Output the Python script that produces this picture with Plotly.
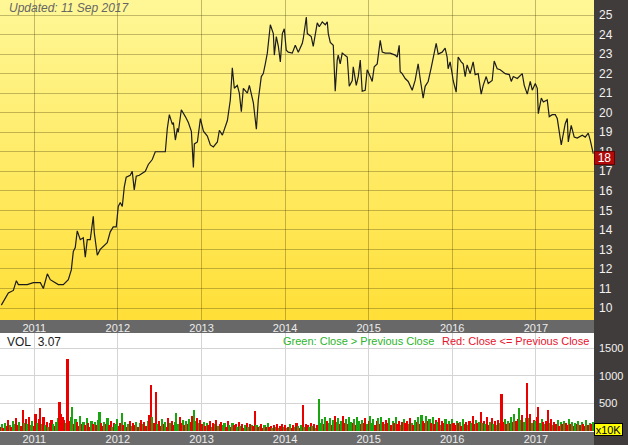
import plotly.graph_objects as go
import pandas as pd
import numpy as np

# price line (time as decimal year, close price)
price_t = [
    2010.605, 2010.653, 2010.689, 2010.749, 2010.785, 2010.809, 2010.916, 2010.988,
    2011.072, 2011.108, 2011.156, 2011.191, 2011.227, 2011.287, 2011.347, 2011.407,
    2011.443, 2011.467, 2011.490, 2011.514, 2011.550, 2011.586, 2011.610, 2011.634,
    2011.670, 2011.706, 2011.718, 2011.754, 2011.789, 2011.825, 2011.873, 2011.909,
    2011.945, 2011.981, 2011.993, 2012.005, 2012.029, 2012.053, 2012.077, 2012.100,
    2012.148, 2012.172, 2012.196, 2012.220, 2012.256, 2012.328, 2012.364, 2012.411,
    2012.447, 2012.483, 2012.567, 2012.591, 2012.615, 2012.651, 2012.663, 2012.687,
    2012.711, 2012.722, 2012.758, 2012.806, 2012.842, 2012.878, 2012.902, 2012.914,
    2012.950, 2012.962, 2012.986, 2013.022, 2013.069, 2013.105, 2013.141, 2013.189,
    2013.213, 2013.249, 2013.285, 2013.309, 2013.344, 2013.368, 2013.392, 2013.428,
    2013.452, 2013.476, 2013.500, 2013.548, 2013.572, 2013.608, 2013.620, 2013.656,
    2013.679, 2013.715, 2013.739, 2013.763, 2013.787, 2013.823, 2013.859, 2013.871,
    2013.895, 2013.919, 2013.943, 2013.967, 2013.990, 2014.014, 2014.038, 2014.086,
    2014.122, 2014.158, 2014.206, 2014.218, 2014.254, 2014.266, 2014.313, 2014.337,
    2014.385, 2014.409, 2014.445, 2014.481, 2014.505, 2014.517, 2014.541, 2014.577,
    2014.589, 2014.600, 2014.624, 2014.636, 2014.660, 2014.684, 2014.744, 2014.768,
    2014.804, 2014.816, 2014.852, 2014.876, 2014.900, 2014.923, 2014.959, 2014.983,
    2015.019, 2015.043, 2015.067, 2015.103, 2015.139, 2015.163, 2015.199, 2015.258,
    2015.318, 2015.342, 2015.366, 2015.378, 2015.402, 2015.438, 2015.474, 2015.522,
    2015.557, 2015.593, 2015.617, 2015.653, 2015.677, 2015.713, 2015.749, 2015.773,
    2015.809, 2015.833, 2015.880, 2015.916, 2015.940, 2015.952, 2015.976, 2016.000,
    2016.012, 2016.048, 2016.072, 2016.108, 2016.132, 2016.156, 2016.179, 2016.215,
    2016.251, 2016.275, 2016.311, 2016.347, 2016.371, 2016.407, 2016.431, 2016.478,
    2016.502, 2016.538, 2016.574, 2016.634, 2016.682, 2016.706, 2016.730, 2016.778,
    2016.801, 2016.837, 2016.861, 2016.897, 2016.933, 2016.957, 2016.993, 2017.017,
    2017.029, 2017.065, 2017.089, 2017.136, 2017.160, 2017.196, 2017.232, 2017.256,
    2017.304, 2017.328, 2017.352, 2017.376, 2017.388, 2017.423, 2017.459, 2017.495,
    2017.555, 2017.591, 2017.627, 2017.651, 2017.687,
]
price = [
    10.15, 10.5, 10.77, 10.9, 11.4, 11.2, 11.2, 11.3,
    11.3, 11.0, 11.75, 11.45, 11.35, 11.2, 11.2, 11.45,
    11.95, 12.9, 13.1, 13.95, 13.5, 13.6, 12.6, 13.5,
    13.5, 14.7, 13.85, 12.7, 13.0, 13.15, 13.35, 13.9,
    14.15, 14.15, 14.7, 15.2, 15.4, 15.2, 16.2, 16.7,
    16.8, 17.0, 16.05, 16.75, 16.8, 17.0, 17.35, 17.6,
    18.0, 18.0, 18.0, 19.2, 19.9, 19.4, 19.5, 18.6,
    19.2, 19.0, 20.15, 19.8, 19.5, 19.05, 17.2, 18.4,
    18.5, 18.9, 19.7, 19.05, 18.8, 18.35, 18.25, 18.5,
    19.1, 18.85, 19.3, 19.6, 20.65, 22.3, 21.25, 21.4,
    21.0, 20.05, 21.25, 21.0, 21.4, 20.8, 20.5, 19.15,
    20.65, 21.85, 22.0, 22.5, 23.05, 24.5, 24.05, 22.95,
    23.9, 23.4, 22.6, 24.05, 24.3, 23.2, 23.1, 23.05,
    23.45, 23.1, 23.55, 23.8, 24.9, 24.05, 23.9, 23.4,
    24.6, 24.4, 24.65, 24.5, 24.65, 24.05, 23.6, 23.45,
    22.35, 21.1, 22.7, 22.95, 22.5, 23.05, 22.85, 21.35,
    21.65, 22.35, 21.4, 21.85, 22.7, 21.1, 21.15, 22.2,
    21.85, 21.6, 22.35, 22.5, 23.7, 23.1, 23.05, 23.05,
    22.95, 22.85, 23.45, 22.1, 22.0, 21.75, 21.6, 21.15,
    21.65, 22.5, 21.75, 20.75, 21.35, 21.6, 22.3, 22.85,
    23.55, 23.0, 23.1, 23.3, 22.85, 22.25, 22.6, 22.0,
    21.65, 21.05, 22.85, 22.6, 22.5, 21.85, 22.45, 22.0,
    22.6, 21.95, 22.0, 20.95, 21.4, 21.85, 21.5, 21.65,
    22.65, 22.25, 22.2, 22.0, 21.95, 21.6, 21.85, 21.75,
    21.85, 22.0, 21.4, 20.95, 21.6, 21.15, 21.5, 21.25,
    19.95, 20.75, 20.55, 20.65, 19.8, 19.9, 19.9, 19.7,
    18.35, 18.95, 19.45, 19.7, 18.5, 19.35, 18.75, 18.7,
    18.85, 18.75, 18.95, 18.6, 17.9,
]

# weekly volume (x10K)
volume = [
    80, 120, 60, 150, 90, 200, 110, 70, 180, 130, 240, 100, 160, 90, 380, 140, 220, 120, 260, 100,
    180, 90, 300, 150, 210, 410, 130, 250, 100, 170, 80, 140, 200, 120, 90, 160, 230, 530, 300, 250,
    200, 150, 1310, 180, 250, 440, 130, 210, 160, 90, 280, 120, 170, 100, 230, 140, 80, 190, 120, 160,
    110, 200, 350, 150, 90, 170, 130, 240, 100, 180, 80, 150, 120, 210, 90, 140, 330, 110, 170, 80,
    130, 190, 90, 150, 110, 170, 80, 140, 200, 120, 160, 90, 180, 290, 835, 260, 150, 715, 120, 180,
    90, 210, 130, 170, 80, 230, 140, 190, 110, 160, 330, 120, 250, 150, 200, 100, 180, 130, 220, 160,
    270, 380, 190, 240, 150, 200, 120, 170, 90, 140, 110, 180, 80, 150, 120, 200, 90, 130, 160, 100,
    140, 80, 190, 110, 70, 150, 100, 120, 80, 170, 90, 130, 60, 110, 150, 80, 120, 100, 90, 365,
    110, 70, 90, 130, 60, 100, 80, 140, 70, 90, 60, 110, 80, 120, 50, 90, 130, 70, 100, 60,
    80, 120, 60, 100, 70, 140, 90, 60, 110, 470, 80, 130, 100, 70, 150, 90, 120, 60, 110, 590,
    150, 220, 120, 260, 180, 140, 240, 110, 200, 270, 160, 230, 130, 190, 280, 150, 210, 120, 250, 170,
    140, 220, 110, 260, 180, 130, 200, 150, 240, 120, 190, 270, 140, 210, 100, 180, 230, 130, 250, 160,
    120, 200, 150, 230, 110, 180, 140, 260, 130, 190, 100, 170, 220, 140, 180, 120, 240, 150, 110, 200,
    170, 250, 130, 290, 190, 150, 270, 180, 220, 140, 260, 120, 200, 160, 230, 110, 190, 150, 210, 130,
    180, 120, 220, 150, 100, 190, 140, 170, 90, 210, 130, 160, 110, 180, 140, 280, 120, 200, 150, 170,
    350, 140, 190, 120, 260, 110, 170, 230, 130, 180, 100, 200, 150, 680, 170, 220, 120, 190, 140, 250,
    160, 300, 180, 220, 410, 200, 290, 170, 240, 880, 230, 310, 150, 200, 180, 260, 440, 140, 210, 170,
    130, 190, 380, 150, 220, 110, 170, 130, 200, 90, 160, 120, 180, 140, 100, 210, 130, 170, 90, 150,
    120, 180, 100, 160, 130, 90, 200, 110, 150, 130, 170,
]
# g = close > previous close, r = close <= previous close
vol_dir = (
    "rgrgrrgrggrrgrrgrgrg" "grrgrrgrgrgrrgrggrrr" "rgrrggrgrrgrgrgrrgrg" "rggrrgrgrrgrggrrgrgr"
    "grgrrgrgrgrrgrrgrrgr" "rgrgrrgrrgggrrgrgrgr" "rggrgrrgrgrrgrgrgrrg" "grrgrgrrgrgrrgrgrgrr"
    "grgrrgrgrrgrgrgrrgrg" "rgrrgrgrgrgrrgrgrgrg" "ggrgrggrgrggrgrrgrgg" "rgrggrgrrgrgggrrgrgr"
    "grrgrgrgrrgrgrrgrgrg" "rgrgrrgrgrgrrgrgrrgr" "grgrrgrgrgrrgrgrrgrg" "rgrgrrgrgrgrgrrgrgrg"
    "rgrrggrggrgrgrgrrggr" "grrgrgrrgrgrgrrgrgrg" "rgrgrrgrgrg"
)

year_ticks = ["2011", "2012", "2013", "2014", "2015", "2016", "2017"]
price_ticks = list(range(10, 26))
vol_ticks = [500, 1000, 1500]


def to_date(t):
    y = int(np.floor(t))
    start = pd.Timestamp(year=y, month=1, day=1)
    days = (pd.Timestamp(year=y + 1, month=1, day=1) - start).days
    return start + pd.Timedelta(days=(t - y) * days)


price_dates = [to_date(t) for t in price_t]
vol_dates = pd.date_range("2010-08-06", "2017-09-08", periods=len(volume))
vol_colors = ["rgb(25,165,15)" if c == "g" else "rgb(235,0,0)" for c in vol_dir]
tick_dates = [pd.Timestamp(int(y), 1, 1) for y in year_ticks]

FONT = "Arial, Liberation Sans, sans-serif"
X_END = 594 / 628          # right edge of plot panels
MAIN_BOT = (445 - 320) / 445
VOL_TOP = (445 - 333) / 445
VOL_BOT = (445 - 431) / 445

fig = go.Figure()
fig.add_trace(go.Scatter(x=price_dates, y=price, mode="lines",
                         line=dict(color="#1c1c1c", width=1.2),
                         hoverinfo="skip", showlegend=False, xaxis="x", yaxis="y"))
fig.add_trace(go.Bar(x=vol_dates, y=volume, marker=dict(color=vol_colors, line_width=0),
                     hoverinfo="skip", showlegend=False, xaxis="x2", yaxis="y2"))

# yellow gradient behind price panel
shapes = []
n = 40
top = np.array([255, 248, 152])
bot = np.array([255, 223, 55])
for i in range(n):
    c = bot + (top - bot) * (i + 0.5) / n
    y0 = MAIN_BOT + (1 - MAIN_BOT) * i / n
    y1 = MAIN_BOT + (1 - MAIN_BOT) * (i + 1) / n
    shapes.append(dict(type="rect", xref="paper", yref="paper", x0=0, x1=X_END, y0=y0, y1=y1 + 0.001,
                       fillcolor="rgb(%d,%d,%d)" % tuple(c), line_width=0, layer="below"))
# date bands and right panel
shapes.append(dict(type="rect", xref="paper", yref="paper", x0=0, x1=X_END, y0=VOL_TOP, y1=MAIN_BOT,
                   fillcolor="#686868", line_width=0, layer="below"))
shapes.append(dict(type="rect", xref="paper", yref="paper", x0=0, x1=X_END, y0=0, y1=(445 - 432) / 445,
                   fillcolor="#6c6c6c", line_width=0, layer="below"))
shapes.append(dict(type="rect", xref="paper", yref="paper", x0=X_END, x1=1, y0=0, y1=1,
                   fillcolor="#403c3b", line_width=0, layer="below"))

axis_common = dict(showline=False, zeroline=False, ticks="")
fig.update_layout(
    width=628, height=445, margin=dict(l=0, r=0, t=0, b=0),
    paper_bgcolor="white", plot_bgcolor="rgba(0,0,0,0)",
    font=dict(family=FONT), bargap=0, shapes=shapes,
    xaxis=dict(domain=[0, X_END], anchor="y", type="date",
               range=["2010-08-04", "2017-09-12"],
               tickmode="array", tickvals=tick_dates, ticktext=year_ticks,
               tickfont=dict(size=11, color="#ececec"),
               showgrid=True, gridcolor="rgba(70,60,10,0.33)", gridwidth=1, **axis_common),
    yaxis=dict(domain=[MAIN_BOT, 1], anchor="x", side="right", range=[9.386, 25.77],
               tickmode="array", tickvals=price_ticks, ticktext=[str(v) for v in price_ticks],
               tickfont=dict(size=12, color="#f2f2f2"), ticklabelstandoff=4,
               showgrid=True, gridcolor="rgba(70,60,10,0.33)", gridwidth=1, **axis_common),
    xaxis2=dict(domain=[0, X_END], anchor="y2", type="date", matches="x",
                tickmode="array", tickvals=tick_dates, ticktext=year_ticks,
                tickfont=dict(size=11, color="#ececec"),
                showgrid=True, gridcolor="#d4d4d4", gridwidth=1, **axis_common),
    yaxis2=dict(domain=[VOL_BOT, VOL_TOP], anchor="x2", side="right", range=[0, 1780],
                tickmode="array", tickvals=vol_ticks, ticktext=[str(v) for v in vol_ticks],
                tickfont=dict(size=11, color="#f2f2f2"), ticklabelstandoff=4,
                showgrid=True, gridcolor="#d4d4d4", gridwidth=1, **axis_common),
)

annotations = [
    dict(text="<i>Updated: 11 Sep 2017</i>", xref="paper", yref="paper", x=7 / 628, y=1 - 8 / 445,
         xanchor="left", yanchor="middle", showarrow=False, font=dict(size=12, color="#666666")),
    dict(text="VOL&nbsp;&nbsp;3.07", xref="paper", yref="paper", x=5 / 628, y=(445 - 342) / 445,
         xanchor="left", yanchor="middle", showarrow=False, font=dict(size=12, color="#202020")),
    dict(text="Green: Close > Previous Close", xref="paper", yref="paper", x=436 / 628, y=(445 - 341) / 445,
         xanchor="right", yanchor="middle", showarrow=False, font=dict(size=11, color="#2cb52c")),
    dict(text="Red: Close <= Previous Close", xref="paper", yref="paper", x=591 / 628, y=(445 - 341) / 445,
         xanchor="right", yanchor="middle", showarrow=False, font=dict(size=11, color="#e8132e")),
    dict(text="18", xref="paper", yref="y", x=X_END, y=price[-1] - 0.2,
         xanchor="left", yanchor="middle", showarrow=False, width=17, height=10,
         bgcolor="#b00a0a", bordercolor="#6a0000", borderwidth=1, borderpad=1,
         font=dict(size=12, color="white")),
    dict(text="x10K", xref="paper", yref="paper", x=X_END, y=(445 - 429) / 445,
         xanchor="left", yanchor="middle", showarrow=False, width=25, height=9,
         bgcolor="#ffff00", bordercolor="#000000", borderwidth=1, borderpad=1,
         font=dict(size=11, color="black")),
]
fig.update_layout(annotations=annotations)

fig.write_html("out.html", config={"displayModeBar": False},
               post_script="document.body.style.margin='0';document.body.style.overflow='hidden';")
